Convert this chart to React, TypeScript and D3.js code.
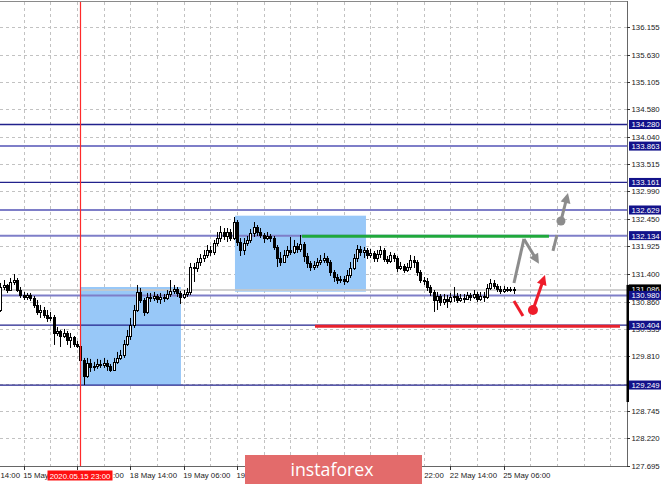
import React from "react";
import * as d3 from "d3";

const W = 665;
const H = 486;

// Price axis labels
const priceTicks = [
  136.155, 135.63, 135.105, 134.58, 134.04, 133.515, 132.99, 132.45, 131.925,
  131.4, 130.86, 130.335, 129.81, 129.27, 128.745, 128.22, 127.695,
];

// Time axis labels and the bar each one sits on (H1 bars, weekend skipped)
const timeLabels = [
  "14 May 14:00", "15 May 06:00", "15 May 22:00", "18 May 14:00", "19 May 06:00",
  "19 May 22:00", "20 May 14:00", "21 May 06:00", "21 May 22:00", "22 May 14:00",
  "25 May 06:00",
];
const timeLabelBars = [-9, 7, 23, 39, 55, 71, 87, 103, 119, 135, 151];
// Part of each label left uncovered by the marker tag and the banner:
// "start" keeps the head of the label, "end" keeps its tail, "none" hides it
const timeLabelShown: ["full" | "start" | "end" | "none", number][] = [
  ["end", 5], ["start", 6], ["end", 3], ["full", 0], ["full", 0],
  ["start", 2], ["none", 0], ["none", 0], ["end", 5], ["full", 0], ["full", 0],
];

// USD/JPY H1 candles: open of the first bar, then high / low / close per bar
const firstOpen = 130.698;
const highs = [
  131.22, 131.277, 131.2, 131.316, 131.393, 131.316, 131.142, 131.046, 131.027, 131.027,
  130.969, 130.891, 130.795, 130.756, 130.698, 130.66, 130.602, 130.37, 130.312, 130.332,
  130.293, 130.254, 130.196, 130.1, 130.042, 129.772, 129.772, 129.753, 129.695, 129.753,
  129.734, 129.772, 129.734, 129.656, 129.772, 129.888, 129.926, 130.119, 130.312, 130.544,
  130.795, 131.181, 131.123, 130.93, 131.027, 131.027, 131.046, 131.007, 131.027, 131.007,
  131.084, 131.277, 131.181, 131.142, 131.065, 131.084, 131.123, 131.606, 131.606, 131.702,
  131.779, 131.857, 131.953, 131.934, 132.05, 132.204, 132.32, 132.281, 132.281, 132.262,
  132.494, 132.436, 132.088, 132.088, 132.127, 132.262, 132.397, 132.339, 132.281, 132.185,
  132.204, 132.166, 132.127, 131.953, 131.818, 131.857, 131.934, 132.108, 132.05, 131.992,
  132.146, 132.011, 131.799, 131.644, 131.644, 131.702, 131.76, 131.799, 131.741, 131.663,
  131.47, 131.393, 131.355, 131.355, 131.47, 131.625, 131.779, 131.953, 131.934, 131.915,
  131.895, 131.876, 131.837, 131.857, 131.934, 131.895, 131.741, 131.818, 131.799, 131.741,
  131.625, 131.586, 131.606, 131.76, 131.741, 131.663, 131.47, 131.335, 131.316, 131.181,
  131.084, 131.046, 131.007, 131.007, 130.988, 131.027, 131.142, 131.027, 131.007, 131.007,
  131.046, 131.027, 131.084, 131.046, 131.046, 131.046, 131.2, 131.297, 131.277, 131.2,
  131.162, 131.162, 131.142, 131.142, 131.142,
];
const lows = [
  130.66, 131.084, 131.027, 131.065, 131.181, 131.046, 130.93, 130.891, 130.891, 130.872,
  130.737, 130.602, 130.544, 130.544, 130.467, 130.486, 130.023, 130.196, 129.984, 130.158,
  130.023, 129.965, 129.984, 129.965, 129.695, 129.249, 129.386, 129.502, 129.522, 129.56,
  129.579, 129.579, 129.522, 129.502, 129.522, 129.656, 129.734, 129.772, 130.003, 130.119,
  130.351, 130.66, 130.833, 130.583, 130.621, 130.853, 130.872, 130.833, 130.814, 130.853,
  130.891, 130.949, 131.007, 130.949, 130.814, 130.911, 130.949, 130.988, 131.239, 131.432,
  131.548, 131.625, 131.702, 131.741, 131.76, 131.934, 132.011, 132.05, 132.011, 132.03,
  132.05, 131.934, 131.741, 131.76, 131.934, 131.992, 132.108, 132.127, 132.088, 131.992,
  132.05, 132.011, 131.857, 131.528, 131.548, 131.606, 131.702, 131.76, 131.779, 131.799,
  131.818, 131.625, 131.509, 131.451, 131.47, 131.509, 131.567, 131.606, 131.548, 131.355,
  131.239, 131.2, 131.22, 131.181, 131.22, 131.316, 131.47, 131.625, 131.741, 131.702,
  131.683, 131.702, 131.625, 131.625, 131.702, 131.625, 131.586, 131.606, 131.625, 131.432,
  131.47, 131.413, 131.432, 131.47, 131.509, 131.355, 131.22, 131.181, 131.065, 130.969,
  130.66, 130.698, 130.776, 130.795, 130.737, 130.833, 130.853, 130.833, 130.853, 130.833,
  130.891, 130.872, 130.911, 130.853, 130.872, 130.853, 130.911, 131.084, 131.104, 131.046,
  131.007, 131.027, 131.046, 131.046, 131.007,
];
const closes = [
  131.142, 131.181, 131.084, 131.239, 131.277, 131.084, 130.988, 130.949, 130.988, 130.93,
  130.795, 130.66, 130.698, 130.602, 130.544, 130.563, 130.254, 130.293, 130.196, 130.254,
  130.119, 130.177, 130.042, 130.003, 129.734, 129.425, 129.676, 129.599, 129.618, 129.656,
  129.637, 129.676, 129.618, 129.541, 129.695, 129.772, 129.83, 130.042, 130.196, 130.409,
  130.698, 131.046, 130.891, 130.66, 130.949, 130.93, 130.969, 130.911, 130.949, 130.93,
  131.007, 131.065, 131.104, 131.027, 130.949, 131.007, 131.046, 131.528, 131.509, 131.625,
  131.702, 131.76, 131.857, 131.818, 131.992, 132.088, 132.204, 132.127, 132.204, 132.088,
  132.397, 132.011, 131.857, 131.992, 132.05, 132.185, 132.301, 132.204, 132.146, 132.088,
  132.127, 132.088, 131.915, 131.702, 131.625, 131.76, 131.857, 131.818, 131.934, 131.876,
  131.972, 131.741, 131.606, 131.528, 131.567, 131.625, 131.663, 131.702, 131.625, 131.432,
  131.335, 131.277, 131.297, 131.258, 131.374, 131.509, 131.702, 131.876, 131.818, 131.857,
  131.76, 131.799, 131.702, 131.779, 131.857, 131.683, 131.644, 131.76, 131.702, 131.509,
  131.548, 131.47, 131.528, 131.663, 131.625, 131.432, 131.277, 131.258, 131.142, 131.046,
  130.891, 130.969, 130.853, 130.911, 130.872, 130.949, 130.969, 130.891, 130.93, 130.911,
  130.988, 130.949, 131.007, 130.911, 130.969, 130.949, 131.123, 131.22, 131.162, 131.104,
  131.065, 131.104, 131.084, 131.104, 131.086,
];

// Horizontal support / resistance levels
const levels = [134.28, 133.863, 133.161, 132.629, 132.134, 130.98, 130.404, 129.249];
const wideLevels = [133.863, 132.629, 132.134, 130.98];
const bidPrice = 131.086;

// Marked bar (15 May 23:00)
const markerBar = 24;
const markerLabel = "2020.05.15 23:00";

// Boxes: [fromBar, toBar, topPrice, bottomPrice]
const boxes: [number, number, number, number][] = [
  [24.2, 54.2, 131.142, 129.249],
  [70.4, 109.7, 132.519, 131.051],
];

// Trend segments: [fromBar, toBar, price]
const greenSegment: [number, number, number] = [90.5, 164.6, 132.12];
const redSegment: [number, number, number] = [94.4, 185.9, 130.383];

// Scenario sketches (bar, price)
const grayPathA: [number, number][] = [[154.1, 131.22], [157.1, 132.07], [161.6, 131.59]];
const grayDash: [number, number][] = [[165.8, 131.84], [167.0, 132.146]];
const grayDot: [number, number] = [168.2, 132.417];
const grayTip: [number, number] = [170.3, 132.957];
const redDash: [number, number][] = [[154.1, 130.872], [156.8, 130.582]];
const redDot: [number, number] = [159.8, 130.698];
const redTip: [number, number] = [163.4, 131.374];

const PLOT_R = 627;
const PLOT_T = 2;
const PLOT_B = 466;
const LABEL_W = 47.3; // rendered width of a full "dd Mon hh:mm" label
const CHAR_W = 3.9; // approximate width of one label character at 7.8px

const x = d3.scaleLinear().domain([0, 150]).range([0.3, 500.3]);
const y = d3.scaleLinear().domain([127.695, 136.155]).range([465.5, 27.4]);

const FONT = "'Liberation Sans', Arial, sans-serif";

function arrowHead(from: [number, number], to: [number, number], len: number, half: number) {
  const dx = to[0] - from[0];
  const dy = to[1] - from[1];
  const d = Math.hypot(dx, dy) || 1;
  const ux = dx / d;
  const uy = dy / d;
  const bx = to[0] - ux * len;
  const by = to[1] - uy * len;
  return `M${to[0]},${to[1]} L${bx - uy * half},${by + ux * half} L${bx + uy * half},${by - ux * half} Z`;
}

function Arrow({ from, to, color }: { from: [number, number]; to: [number, number]; color: string }) {
  const p1: [number, number] = [x(from[0]), y(from[1])];
  const p2: [number, number] = [x(to[0]), y(to[1])];
  const d = Math.hypot(p2[0] - p1[0], p2[1] - p1[1]);
  const k = (d - 6) / d;
  const end: [number, number] = [p1[0] + (p2[0] - p1[0]) * k, p1[1] + (p2[1] - p1[1]) * k];
  return (
    <g>
      <line x1={p1[0]} y1={p1[1]} x2={end[0]} y2={end[1]} stroke={color} strokeWidth={3} />
      <path d={arrowHead(p1, p2, 10, 5)} fill={color} />
    </g>
  );
}

export default function App() {
  const line = d3.line<[number, number]>().x((d) => x(d[0])).y((d) => y(d[1]));

  const gridBars = d3.range(-1, 190, 8).filter((b) => x(b) > 0 && x(b) < PLOT_R);

  const candles = closes.map((c, i) => {
    const o = i === 0 ? firstOpen : closes[i - 1];
    const cx = Math.round(x(i)) + 0.5;
    const top = Math.round(y(Math.max(o, c))) + 0.5;
    const bot = Math.round(y(Math.min(o, c))) + 0.5;
    const bull = c >= o;
    return (
      <g key={i}>
        <line x1={cx} x2={cx} y1={y(highs[i])} y2={y(lows[i])} stroke="#000" strokeWidth={1} />
        <rect
          x={cx - 1}
          y={top}
          width={2}
          height={Math.max(bot - top, 0.01)}
          fill={bull ? "#fff" : "#000"}
          stroke="#000"
          strokeWidth={1}
        />
      </g>
    );
  });

  const bidY = y(bidPrice);

  const timeTexts = timeLabelBars.map((b, i) => {
    const [mode, n] = timeLabelShown[i];
    const label = timeLabels[i];
    const x0 = x(b) - 0.5;
    if (mode === "none") return null;
    if (mode === "end") {
      const tail = label.slice(label.length - n);
      const endX = Math.max(x0 + LABEL_W, tail.length * CHAR_W + 0.5);
      return (
        <text key={"xt" + b} x={endX} y={478} fontSize={7.8} fill="#222" textAnchor="end">
          {tail}
        </text>
      );
    }
    return (
      <text key={"xt" + b} x={x0} y={478} fontSize={7.8} fill="#222">
        {mode === "start" ? label.slice(0, n) : label}
      </text>
    );
  });

  return (
    <div style={{ position: "fixed", left: 0, top: 0, width: W, height: H, background: "#fff" }}>
      <svg width={W} height={H} style={{ display: "block" }} fontFamily={FONT}>
        <rect x={0} y={0} width={W} height={H} fill="#fff" />
        <defs>
          <clipPath id="plot">
            <rect x={0} y={PLOT_T} width={PLOT_R} height={PLOT_B - PLOT_T} />
          </clipPath>
        </defs>

        <g clipPath="url(#plot)">
          {/* grid */}
          {priceTicks.map((p) => (
            <line key={"h" + p} x1={0} x2={PLOT_R} y1={Math.round(y(p)) + 0.5} y2={Math.round(y(p)) + 0.5}
              stroke="#c2c2c2" strokeDasharray="3,3" />
          ))}
          {gridBars.map((b) => (
            <line key={"v" + b} x1={Math.round(x(b)) + 0.5} x2={Math.round(x(b)) + 0.5} y1={PLOT_T} y2={PLOT_B}
              stroke="#c2c2c2" strokeDasharray="3,3" />
          ))}

          {/* boxes */}
          {boxes.map(([b0, b1, top, bot], i) => (
            <rect key={"box" + i} x={x(b0)} y={y(top)} width={x(b1) - x(b0)} height={y(bot) - y(top)} fill="#98c8f8" />
          ))}

          {/* bid line */}
          <line x1={0} x2={PLOT_R} y1={bidY} y2={bidY} stroke="#c8c8c8" strokeWidth={2} opacity={0.85} />

          {/* levels */}
          {levels.map((p) => {
            const wide = wideLevels.includes(p);
            return (
              <line key={"l" + p} x1={0} x2={PLOT_R} y1={y(p)} y2={y(p)}
                stroke={wide ? "#7e7ec8" : "#22228c"} strokeWidth={wide ? 2 : 1.3} />
            );
          })}

          {/* trend segments */}
          <line x1={x(greenSegment[0])} x2={x(greenSegment[1])} y1={y(greenSegment[2])} y2={y(greenSegment[2])}
            stroke="#1fa83c" strokeWidth={3} />
          <line x1={x(redSegment[0])} x2={x(redSegment[1])} y1={y(redSegment[2])} y2={y(redSegment[2])}
            stroke="#e8202c" strokeWidth={3} />

          {/* candles */}
          {candles}

          {/* marked bar */}
          <line x1={Math.round(x(markerBar)) + 0.5} x2={Math.round(x(markerBar)) + 0.5} y1={PLOT_T} y2={PLOT_B}
            stroke="#ff2a2a" strokeWidth={1.2} />

          {/* scenarios */}
          <path d={line(grayPathA.slice(0, 2)) || ""} fill="none" stroke="#8c8c8c" strokeWidth={3} strokeLinejoin="miter" />
          <Arrow from={grayPathA[1]} to={grayPathA[2]} color="#8c8c8c" />
          <path d={line(grayDash) || ""} fill="none" stroke="#8c8c8c" strokeWidth={3} />
          <circle cx={x(grayDot[0])} cy={y(grayDot[1])} r={4.5} fill="#8c8c8c" />
          <Arrow from={grayDot} to={grayTip} color="#8c8c8c" />
          <path d={line(redDash) || ""} fill="none" stroke="#ee1c2a" strokeWidth={3} />
          <circle cx={x(redDot[0])} cy={y(redDot[1])} r={5} fill="#ee1c2a" />
          <Arrow from={redDot} to={redTip} color="#ee1c2a" />
        </g>

        {/* frame */}
        <line x1={0} x2={PLOT_R} y1={1.5} y2={1.5} stroke="#8a8a8a" />
        <line x1={PLOT_R + 0.5} x2={PLOT_R + 0.5} y1={1} y2={PLOT_B} stroke="#666" />
        <line x1={0} x2={PLOT_R + 0.5} y1={PLOT_B + 0.5} y2={PLOT_B + 0.5} stroke="#666" />

        {/* price axis */}
        {priceTicks.map((p) => (
          <g key={"t" + p}>
            <line x1={PLOT_R} x2={PLOT_R + 3} y1={Math.round(y(p)) + 0.5} y2={Math.round(y(p)) + 0.5} stroke="#333" />
            <text x={631.5} y={y(p) + 3} fontSize={7.8} fill="#222">{p.toFixed(3)}</text>
          </g>
        ))}
        <rect x={PLOT_R - 0.5} y={bidY - 5} width={2.5} height={y(129.249) + 17 - (bidY - 5)} fill="#000" />
        <rect x={629} y={bidY - 5.5} width={32} height={9} fill="#000" />
        <text x={631.5} y={bidY + 2.5} fontSize={7.8} fill="#fff">{bidPrice.toFixed(3)}</text>
        {levels.map((p) => (
          <g key={"lb" + p}>
            <rect x={629} y={y(p) - 4.5} width={32} height={9} fill="#12128a" />
            <text x={631.5} y={y(p) + 3} fontSize={7.8} fill="#fff">{p.toFixed(3)}</text>
          </g>
        ))}

        {/* time axis */}
        {timeLabelBars.map((b) =>
          x(b) >= 0 ? (
            <line key={"xk" + b} x1={Math.round(x(b)) + 0.5} x2={Math.round(x(b)) + 0.5} y1={PLOT_B} y2={PLOT_B + 4} stroke="#333" />
          ) : null
        )}
        {timeTexts}
        <rect x={47.5} y={470.5} width={65} height={10} fill="#ff1010" />
        <text x={80} y={478.5} fontSize={7.8} fill="#fff" textAnchor="middle">{markerLabel}</text>

        {/* banner */}
        <rect x={245} y={455} width={177} height={29} fill="#e36b6b" />
        <text x={290.5} y={475.5} fontSize={19} fill="#fff" fontFamily="'Open Sans', 'Noto Sans', sans-serif"
          textLength={83} lengthAdjust="spacingAndGlyphs">instaforex</text>
      </svg>
    </div>
  );
}
